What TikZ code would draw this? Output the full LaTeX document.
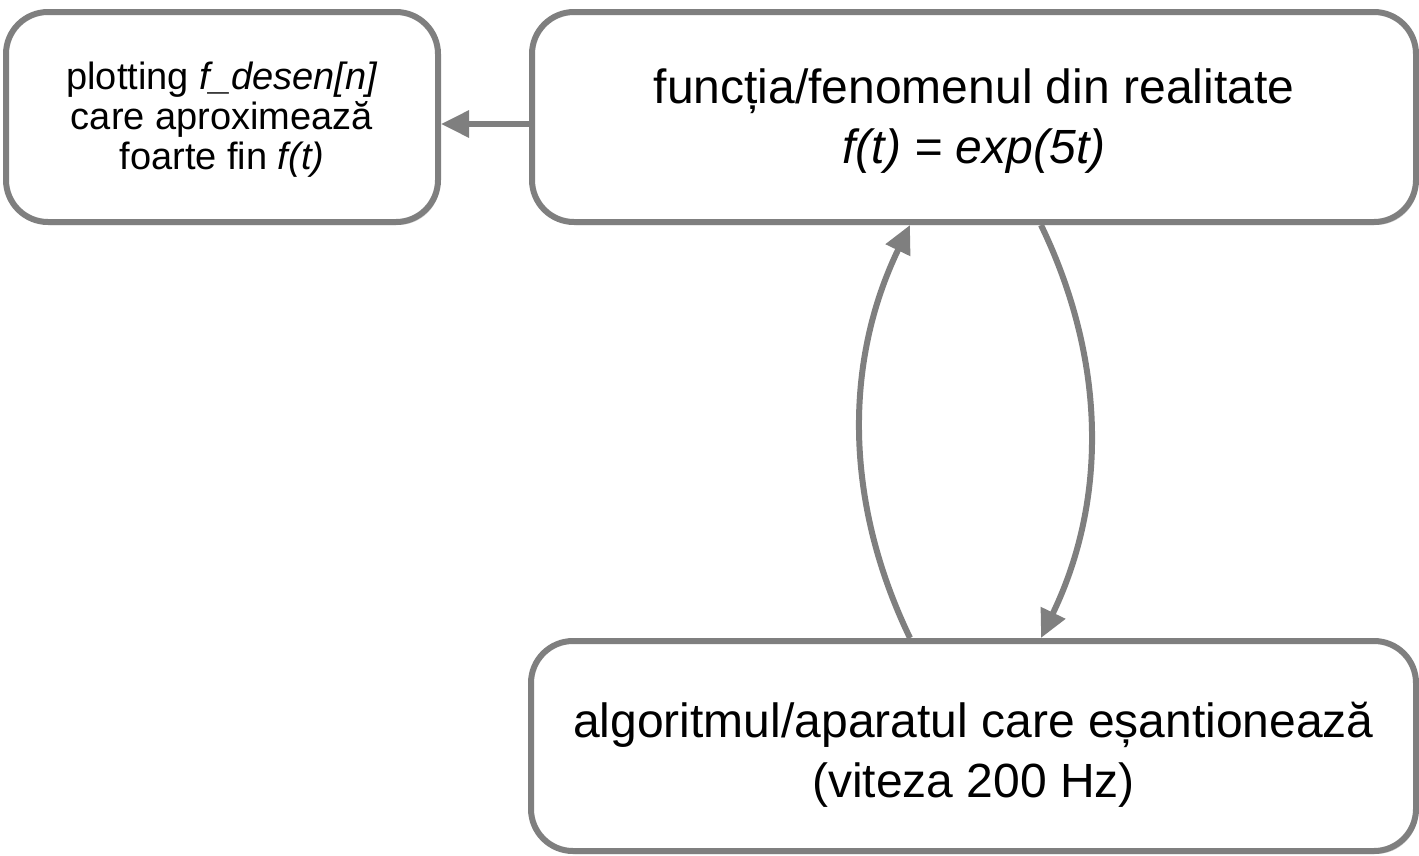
\documentclass[tikz,border=0pt]{standalone}
\usepackage{fontspec}
\setmainfont{Liberation Sans}
\usetikzlibrary{arrows.meta,shadows}
\definecolor{linegray}{HTML}{7F7F7F}
\begin{document}
\begin{tikzpicture}[x=1pt,y=-1pt,
  box/.style={draw=linegray, line width=6pt, rounded corners=42pt, fill=white,
    inner sep=0pt,
    drop shadow={shadow xshift=2pt, shadow yshift=-3pt, opacity=0.2, fill=black}},
  lbl/.style={align=center, inner sep=0pt},
  big/.style={lbl, font=\fontsize{48}{60}\selectfont},
  small/.style={lbl, font=\fontsize{38}{40}\selectfont},
  arr/.style={draw=linegray, line width=6pt, -{Triangle[length=28pt,width=26pt]}}]
\useasboundingbox (0,0) rectangle (1419,855);
\node[box, minimum width=432pt, minimum height=210pt,
  label={[small, yshift=-3pt]center:{plotting \textit{f\_desen[n]}\\care aproximează\\foarte fin \textit{f(t)}}}]
  (plot) at (222,117) {};
\node[box, minimum width=884pt, minimum height=210pt,
  label={[big, yshift=-4pt]center:{funcția/fenomenul din realitate\\\textit{f(t) = exp(5t)}}}]
  (real) at (974,117) {};
\node[box, minimum width=885pt, minimum height=210pt,
  label={[big, yshift=-9pt]center:{algoritmul/aparatul care eșantionează\\(viteza 200 Hz)}}]
  (alg) at (973.5,746) {};
\coordinate (ay) at (0,124);
\coordinate (xl) at (910,0);
\coordinate (xr) at (1041,0);
\draw[arr] (real.west |- ay) -- (plot.east |- ay);
\draw[arr] (alg.north -| xl) .. controls +(-66,-137) and +(-66,137) .. (real.south -| xl);
\draw[arr] (real.south -| xr) .. controls +(66,137) and +(66,-137) .. (alg.north -| xr);
\end{tikzpicture}
\end{document}
